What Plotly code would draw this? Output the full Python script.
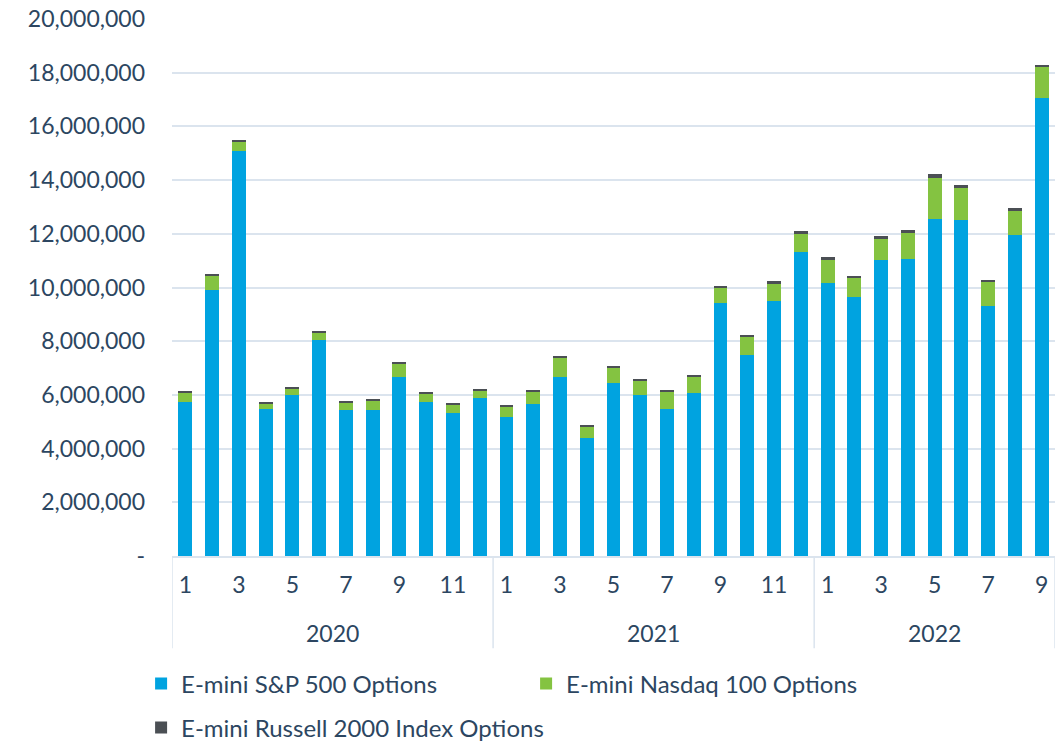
import plotly.graph_objects as go

years = ["2020"] * 12 + ["2021"] * 12 + ["2022"] * 9
months = list(range(1, 13)) + list(range(1, 13)) + list(range(1, 10))

sp500 = [5.72, 9.90, 15.09, 5.46, 5.99, 8.04, 5.42, 5.44, 6.66, 5.72, 5.32, 5.90,
         5.17, 5.65, 6.66, 4.38, 6.44, 5.99, 5.46, 6.06, 9.42, 7.48, 9.49, 11.34,
         10.17, 9.64, 11.01, 11.08, 12.56, 12.53, 9.30, 11.96, 17.04]
nasdaq = [0.38, 0.54, 0.34, 0.22, 0.25, 0.30, 0.30, 0.35, 0.50, 0.34, 0.31, 0.26,
          0.38, 0.49, 0.72, 0.45, 0.58, 0.55, 0.67, 0.62, 0.59, 0.68, 0.65, 0.67,
          0.88, 0.73, 0.81, 0.95, 1.51, 1.19, 0.90, 0.89, 1.16]
russell = [0.03, 0.05, 0.04, 0.02, 0.04, 0.04, 0.03, 0.04, 0.04, 0.03, 0.05, 0.05,
           0.04, 0.06, 0.06, 0.05, 0.04, 0.04, 0.04, 0.06, 0.05, 0.04, 0.10, 0.11,
           0.07, 0.07, 0.11, 0.12, 0.17, 0.11, 0.08, 0.11, 0.09]

series_names = ["E-mini S&P 500 Options", "E-mini Nasdaq 100 Options",
                "E-mini Russell 2000 Index Options"]
colors = ["#00a3e0", "#84c341", "#4b4f54"]
legend_ids = ["legend", "legend", "legend2"]

y_ticks = list(range(0, 20_000_001, 2_000_000))
y_ticktext = ["-"] + [f"{v:,}" for v in y_ticks[1:]]

text_color = "#2c4661"
grid_color = "#dbe4ee"
font_family = "Lato, 'Open Sans', sans-serif"
fs = 23
legend_fs = 24

x = list(range(len(months)))
fig = go.Figure()
for name, vals, col, lg in zip(series_names, [sp500, nasdaq, russell], colors, legend_ids):
    fig.add_trace(go.Bar(
        x=x, y=[v * 1_000_000 for v in vals], name=name,
        marker=dict(color=col, line=dict(width=0)),
        width=0.52, legend=lg,
    ))

tickvals = [i for i, m in enumerate(months) if m % 2 == 1]
ticktext = [str(months[i]) for i in tickvals]

# year groups
groups = []
for i, yv in enumerate(years):
    if not groups or groups[-1][0] != yv:
        groups.append([yv, i, i])
    else:
        groups[-1][2] = i

shapes = []
annotations = []
bounds = [groups[0][1] - 0.5] + [g[2] + 0.5 for g in groups]
for b in bounds:
    shapes.append(dict(type="line", xref="x", yref="paper", x0=b, x1=b,
                       y0=0, y1=-0.172, line=dict(color=grid_color, width=1.5)))
for yv, s, e in groups:
    annotations.append(dict(x=(s + e) / 2, y=-0.143, xref="x", yref="paper",
                            text=yv, showarrow=False, yanchor="middle",
                            font=dict(size=fs, color=text_color, family=font_family)))

legend_common = dict(orientation="h", xanchor="left", yanchor="top",
                     entrywidthmode="pixels", traceorder="normal",
                     font=dict(size=legend_fs, color=text_color, family=font_family),
                     itemwidth=30, bgcolor="rgba(0,0,0,0)")

fig.update_layout(
    barmode="stack",
    width=1056, height=743,
    margin=dict(l=172, r=1, t=19, b=187, autoexpand=False),
    plot_bgcolor="white", paper_bgcolor="white",
    font=dict(family=font_family, size=fs, color=text_color),
    bargap=0.48,
    xaxis=dict(range=[-0.5, len(months) - 0.5], tickvals=tickvals, ticktext=ticktext,
               showgrid=False, showline=True, linecolor=grid_color, linewidth=1.5,
               ticks="", ticklabelstandoff=8, zeroline=False, automargin=False,
               tickfont=dict(size=fs, color=text_color)),
    yaxis=dict(range=[0, 20_000_000], tickvals=y_ticks, ticktext=y_ticktext,
               showgrid=True, gridcolor=grid_color, gridwidth=1.5,
               zeroline=False, showline=False, ticks="", automargin=False,
               ticklabelstandoff=26,
               tickfont=dict(size=fs, color=text_color)),
    shapes=shapes,
    annotations=annotations,
    legend=dict(x=-0.035, y=-0.1963, entrywidth=340, **legend_common),
    legend2=dict(x=-0.035, y=-0.2783, entrywidth=500, **legend_common),
)

fig.write_html("out.html", post_script="document.body.style.margin='0';",
               config={"displayModeBar": False})
